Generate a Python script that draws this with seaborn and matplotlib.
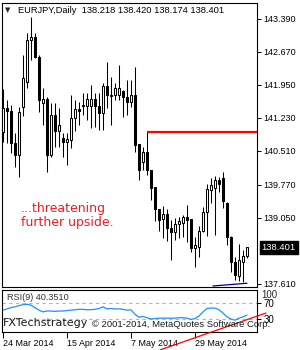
import matplotlib
matplotlib.use('Agg')
import matplotlib.pyplot as plt
from matplotlib.transforms import blended_transform_factory
import seaborn as sns
import numpy as np
import pandas as pd

# ---------------- data ----------------
opens = [140.92, 141.45, 141.38, 140.68, 140.42, 141.47, 142.01, 142.93, 143.00, 142.56,
         141.56, 141.64, 140.42, 141.29, 140.94, 140.79, 140.70, 140.75, 141.23, 141.43,
         141.49, 141.49, 141.49, 141.64, 141.49, 141.34, 141.93, 141.73, 141.73, 141.73,
         141.82, 141.69, 141.58, 141.73, 140.66, 140.27, 140.49, 140.09, 139.72, 139.24,
         139.02, 139.13, 138.83, 138.74, 138.91, 138.94, 139.07, 139.02, 138.39, 138.41,
         138.76, 139.18, 139.66, 139.70, 139.88, 139.92, 139.37, 138.63, 138.08, 137.78,
         138.08, 138.218]
highs = [141.86, 141.62, 141.51, 140.90, 141.47, 142.60, 143.08, 143.43, 143.08, 142.60,
         141.88, 141.69, 141.56, 141.56, 141.45, 140.90, 140.90, 141.73, 141.62, 141.58,
         141.77, 141.77, 141.95, 141.77, 141.77, 141.99, 142.45, 142.12, 141.99, 142.39,
         141.84, 142.06, 142.06, 142.34, 140.66, 140.60, 140.92, 140.09, 139.72, 139.24,
         139.31, 139.24, 139.00, 139.05, 139.07, 139.11, 139.33, 139.02, 138.63, 138.87,
         139.29, 139.79, 139.92, 139.96, 139.94, 140.05, 139.39, 138.65, 138.19, 138.48,
         138.35, 138.420]
lows = [140.70, 140.68, 140.46, 140.16, 139.94, 141.27, 141.88, 142.49, 142.54, 141.36,
        141.08, 140.05, 140.38, 140.60, 140.60, 140.38, 140.20, 140.57, 140.94, 141.08,
        141.29, 141.19, 141.01, 141.03, 140.97, 140.97, 141.45, 141.08, 141.62, 141.62,
        141.25, 141.29, 141.47, 140.49, 139.88, 140.09, 139.98, 139.44, 138.98, 138.76,
        138.61, 138.54, 138.13, 138.57, 138.61, 138.63, 138.52, 138.30, 137.98, 138.19,
        138.74, 138.65, 139.37, 138.67, 139.61, 139.26, 138.46, 137.87, 137.69, 137.67,
        137.65, 138.174]
closes = [141.45, 141.38, 140.68, 140.42, 141.36, 142.10, 142.93, 143.00, 142.56, 141.62,
          141.64, 140.42, 141.29, 140.94, 141.08, 140.70, 140.77, 141.23, 141.43, 141.38,
          141.51, 141.64, 141.64, 141.49, 141.34, 141.93, 141.73, 141.71, 141.88, 141.88,
          141.69, 141.58, 141.73, 140.64, 140.09, 140.49, 140.09, 139.70, 139.24, 139.00,
          139.13, 138.83, 138.74, 138.91, 138.98, 139.07, 139.00, 138.39, 138.46, 138.76,
          139.18, 139.68, 139.77, 139.88, 139.79, 139.42, 138.63, 138.08, 137.80, 138.13,
          138.22, 138.401]
rsi = [52, 55, 58, 60, 63, 65, 66, 64, 58, 52,
       48, 50, 50, 49, 50, 50, 51, 52, 53, 54,
       54, 53, 53, 54, 56, 60, 55, 56, 55, 55,
       54, 52, 53, 42, 35, 37, 34, 31, 32, 33,
       33, 33, 33, 33, 34, 34, 33, 30, 32, 38,
       48, 56, 57, 57, 53, 45, 36, 31, 28, 33,
       36, 40.351]

date_ticks = [0, 16, 32, 48]
date_labels = ['24 Mar 2014', '15 Apr 2014', '7 May 2014', '29 May 2014']
price_ticks = [143.390, 142.670, 141.950, 141.230, 140.510, 139.770, 139.050, 137.610]
rsi_levels = [70, 30]
resistance_level = 140.92
resistance_start = 36
support_x = [52.5, 61]
support_y = [137.56, 137.62]
rsi_trend_x = [39.25, 65.75]
rsi_trend_y = [-42.8, 45.2]
last_price = 138.401
header = 'EURJPY,Daily  138.218 138.420 138.174 138.401'
note_lines = ['...threatening', 'further upside.']

# ---------------- style ----------------
sns.set_theme(style='white')
plt.rcParams['font.family'] = ['Liberation Sans', 'DejaVu Sans']

W, H = 300, 350
fig = plt.figure(figsize=(3, 3.5), dpi=100)
fig.patch.set_facecolor('white')

def fx(px):
    return px / W

def fy(py):
    return 1 - py / H

ax = fig.add_axes([fx(2), fy(287), 255 / W, 284 / H])
ax2 = fig.add_axes([fx(2), fy(332), 255 / W, 42.5 / H])

df = pd.DataFrame(dict(i=np.arange(len(opens)), o=opens, h=highs, l=lows, c=closes))
up = df.c >= df.o

ax.vlines(df.i, df.l, df.h, color='black', lw=0.75, zorder=2)
ax.bar(df.i[up], (df.c - df.o)[up], bottom=df.o[up], width=0.55,
       facecolor='white', edgecolor='black', lw=0.75, zorder=3)
ax.bar(df.i[~up], (df.o - df.c)[~up], bottom=df.c[~up], width=0.55,
       facecolor='black', edgecolor='black', lw=0.75, zorder=3)

xmin, xmax = -0.25, 63.5
ax.set_xlim(xmin, xmax)
ax.set_ylim(137.538, 143.739)

# resistance line
ax.hlines(resistance_level, resistance_start, xmax, color='#ff0000', lw=1.6, zorder=4)
# support line
ax.plot(support_x, support_y, color='#000080', lw=0.9, zorder=4)

for a in (ax, ax2):
    for s in a.spines.values():
        s.set_color('black')
        s.set_linewidth(0.8)
    a.set_facecolor('white')

ax.set_xticks([])
ax.yaxis.tick_right()
ax.set_yticks(price_ticks)
ax.set_yticklabels([f'{v:.3f}' for v in price_ticks])
ax.tick_params(axis='y', right=True, left=False, labelright=True, labelleft=False,
               direction='out', length=3, width=0.7, pad=1.5, labelsize=6.5,
               colors='black')

# current price box
tr = blended_transform_factory(ax.transAxes, ax.transData)
ax.text(1 + 4.5 / 255, last_price, f'{last_price:.3f}', transform=tr, color='white',
        fontsize=6.8, va='center', ha='left', zorder=6, clip_on=False,
        bbox=dict(boxstyle='square,pad=0.2', fc='black', ec='black'))

# RSI panel
sns.lineplot(x=df.i, y=rsi, ax=ax2, color='#1e90ff', lw=0.9)
for lv in rsi_levels:
    ax2.axhline(lv, color='#b4b4b4', ls=(0, (3, 3)), lw=0.8, zorder=1)
ax2.plot(rsi_trend_x, rsi_trend_y, color='#ff0000', lw=0.9, clip_on=False, zorder=5)
ax2.set_xlim(xmin, xmax)
ax2.set_ylim(0, 101.2)
ax2.set_xlabel('')
ax2.set_ylabel('')
ax2.set_xticks(date_ticks)
ax2.set_xticklabels(date_labels, ha='left')
ax2.tick_params(axis='x', bottom=True, direction='out', length=4, width=0.7, pad=1,
                labelsize=6.4, colors='black')
ax2.yaxis.tick_right()
ax2.set_yticks(rsi_levels)
ax2.set_yticklabels([str(v) for v in rsi_levels])
ax2.tick_params(axis='y', right=True, left=False, labelright=True, labelleft=False,
                direction='out', length=3, width=0.7, pad=1.5, labelsize=7, colors='black')
trr = blended_transform_factory(ax2.transAxes, ax2.transData)
ax2.text(1 + 4.5 / 255, 100, '100', transform=trr, fontsize=7, va='top', ha='left',
         clip_on=False)

# texts
fig.text(fx(5), fy(10.5), '\u25bc', fontsize=5, family='DejaVu Sans', va='center', ha='left')
fig.text(fx(18), fy(10.5), header, fontsize=6.7, va='center', ha='left', color='black')
fig.text(fx(7), fy(297.5), 'RSI(9) 40.3510', fontsize=6.6, va='center', ha='left', color='#333333')
fig.text(fx(21), fy(212), note_lines[0], fontsize=9, family='DejaVu Sans', color='#ee1c25',
         va='baseline', ha='left')
fig.text(fx(21), fy(226), note_lines[1], fontsize=9, family='DejaVu Sans', color='#ee1c25',
         va='baseline', ha='left')
fig.text(fx(3), fy(325.5), 'FXTechstrategy', fontsize=8, family='DejaVu Sans',
         color='#1a1a1a', va='baseline', ha='left')
fig.text(fx(92), fy(327), '\u00a9 2001-2014, MetaQuotes Software Corp.', fontsize=6.8,
         color='#1a1a1a', va='baseline', ha='left')

fig.savefig('out.png', dpi=100, facecolor='white')
